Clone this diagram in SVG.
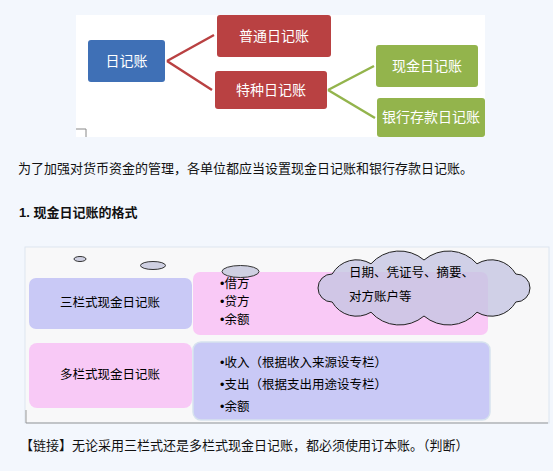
<svg xmlns="http://www.w3.org/2000/svg" width="553" height="471" viewBox="0 0 553 471">
<style>
text{font-family:"Liberation Sans","Noto Sans CJK SC",sans-serif}
.w{fill:#fff;font-size:14px;text-anchor:middle;dominant-baseline:central}
.b{fill:#111;font-size:13px;dominant-baseline:central}
.c{fill:#000;font-size:12.5px;dominant-baseline:central}
.cm{text-anchor:middle}
.red{fill:#b94142}
.grn{fill:#93b44c}
.bub{fill:#cfd0e2;stroke:#333;stroke-width:1}
</style>
<rect width="553" height="471" fill="#f3f7fd"/>
<rect x="76" y="15" width="409" height="122" fill="#ffffff"/>
<path d="M76 129 H86 V137" fill="none" stroke="#888" stroke-width="1"/>
<g id="connectors" fill="none" stroke-width="2.5">
<path d="M167 61 L214 35 M167 61 L212 90" stroke="#b94142"/>
<path d="M328 90 L374 66 M328 90 L375 118" stroke="#93b44c"/>
</g>
<g id="n-rijizhang"><rect x="88" y="40" width="77" height="42" rx="3" fill="#3f70b6"/><text class="w" x="126.5" y="61">日记账</text></g>
<g id="n-putong"><rect class="red" x="217" y="15" width="114" height="42" rx="3"/><text class="w" x="274" y="36">普通日记账</text></g>
<g id="n-tezhong"><rect class="red" x="215" y="71" width="112" height="38" rx="3"/><text class="w" x="271" y="90">特种日记账</text></g>
<g id="n-xianjin"><rect class="grn" x="376" y="45" width="102" height="42" rx="3"/><text class="w" x="427" y="66">现金日记账</text></g>
<g id="n-yinhang"><rect class="grn" x="377" y="98" width="108" height="39" rx="3"/><text class="w" x="431" y="117">银行存款日记账</text></g>

<text class="b" x="18" y="168">为了加强对货币资金的管理，各单位都应当设置现金日记账和银行存款日记账。</text>
<text class="b" x="19" y="212" font-weight="bold" font-size="13.5">1. 现金日记账的格式</text>

<rect x="25" y="247" width="524" height="176" fill="#f8f8f9" stroke="#dde6f0" stroke-width="1"/>
<path d="M26 410 V423 H548" fill="none" stroke="#999" stroke-width="1"/>

<g id="n-sanlan"><rect x="29" y="278" width="163" height="51" rx="7" fill="#c9c9f6"/><text class="c cm" x="110" y="303">三栏式现金日记账</text></g>
<g id="n-sanlan-items"><rect x="193" y="272" width="295" height="63" rx="7" fill="#f9c9f6"/>
<text class="c" x="220" y="284">•借方</text><text class="c" x="220" y="302">•贷方</text><text class="c" x="220" y="320">•余额</text></g>

<g id="bubbles">
<ellipse class="bub" cx="80" cy="259" rx="6" ry="2.5"/>
<ellipse class="bub" cx="153" cy="265.5" rx="12.5" ry="4"/>
<ellipse class="bub" cx="240.5" cy="271.5" rx="18.5" ry="6"/>
</g>
<g id="n-cloud">
<path d="M318 288 A14 14 0 0 1 332.2 274 A28 28 0 0 1 371 263.8 A38 38 0 0 1 424 260 A38 38 0 0 1 477 263.8 A28 28 0 0 1 515.8 274 A14 14 0 0 1 530 288 A14 14 0 0 1 515.8 302 A28 28 0 0 1 477 312.2 A38 38 0 0 1 424 316 A38 38 0 0 1 371 312.2 A28 28 0 0 1 332.2 302 A14 14 0 0 1 318 288 Z" fill="#c6c6e2" fill-opacity="0.8" stroke="#222" stroke-width="1"/>
<text class="c" x="349" y="273" font-size="13">日期、凭证号、摘要、</text>
<text class="c" x="349" y="297" font-size="13">对方账户等</text>
</g>

<g id="n-duolan"><rect x="29" y="343" width="163" height="65" rx="8" fill="#f8c9f6"/><text class="c cm" x="110" y="375">多栏式现金日记账</text></g>
<g id="n-duolan-items"><rect x="193" y="342" width="297" height="78" rx="8" fill="#c9c9f6" stroke="#d6e2ee" stroke-width="1.5"/>
<text class="c" x="220" y="363">•收入（根据收入来源设专栏）</text>
<text class="c" x="220" y="385">•支出（根据支出用途设专栏）</text>
<text class="c" x="220" y="407">•余额</text></g>

<text class="b" x="20" y="445">【链接】无论采用三栏式还是多栏式现金日记账，都必须使用订本账。（判断）</text>
</svg>
